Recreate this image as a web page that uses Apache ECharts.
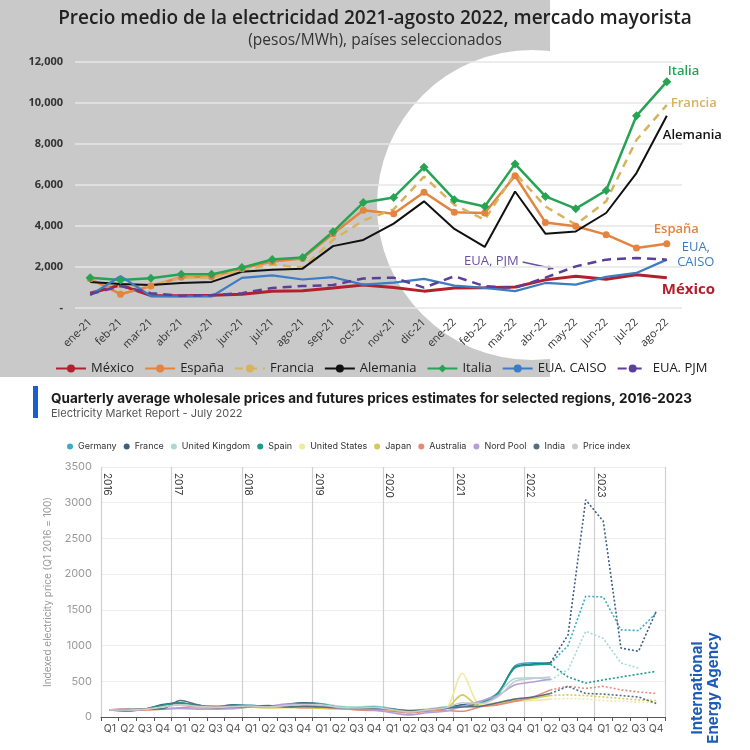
<!DOCTYPE html>
<html><head><meta charset="utf-8">
<script src="https://cdn.jsdelivr.net/npm/echarts@6/dist/echarts.min.js"></script>
<style>html,body{margin:0;padding:0;background:#fff}#c{width:750px;height:750px}</style>
</head><body><div id="c"></div>
<script>
// ---------- Top chart data (pesos/MWh) ----------
const months = ['ene-21','feb-21','mar-21','abr-21','may-21','jun-21','jul-21','ago-21','sep-21','oct-21','nov-21','dic-21','ene-22','feb-22','mar-22','abr-22','may-22','jun-22','jul-22','ago-22'];
const mexico   = [700,1100,580,580,600,650,800,820,950,1100,980,800,950,960,1000,1350,1530,1380,1600,1450];
const espana   = [1400,650,1050,1480,1500,1900,2250,2400,3600,4750,4580,5630,4650,4620,6440,4160,3970,3560,2910,3120];
const francia  = [1300,1000,1050,1450,1450,1850,2100,1950,3300,4250,4800,6400,5020,4290,6570,4940,4050,5190,8190,9900];
const alemania = [1250,1150,1100,1200,1250,1750,1850,1900,3000,3300,4100,5190,3840,2960,5670,3610,3720,4620,6570,9370];
const italia   = [1450,1350,1430,1620,1620,1950,2350,2450,3700,5130,5380,6860,5270,4940,7020,5430,4830,5720,9370,11040];
const caiso    = [600,1530,560,540,540,1450,1570,1370,1480,1120,1220,1400,1070,960,800,1200,1120,1500,1690,2340];
const pjm      = [650,1050,700,580,600,700,950,1050,1100,1420,1460,970,1530,1040,960,1460,2010,2340,2420,2340];
const topYTicks = [0,2000,4000,6000,8000,10000,12000];

// ---------- Bottom chart data (index, Q1 2016 = 100) ----------
const years = ['2016','2017','2018','2019','2020','2021','2022','2023'];
const quarters = ['Q1','Q2','Q3','Q4'];
const germanyHist   = [100,95,105,165,185,160,140,150,165,140,165,190,175,140,130,145,115,75,105,135,165,195,300,720,760,750];
const germanyFut    = [750,1000,1690,1680,1220,1210,1455];
const franceHist    = [100,90,110,175,200,150,145,170,155,135,175,200,185,130,120,140,105,65,100,130,170,210,330,700,740,760];
const franceFut     = [760,1150,3040,2740,965,920,1480];
const ukHist        = [100,100,115,150,170,160,150,155,160,150,165,185,185,150,140,150,120,85,110,140,150,200,330,540,550,520];
const ukFut         = [520,660,1200,1100,755,685,null];
const spainHist     = [100,85,110,165,200,160,145,165,160,150,170,190,180,135,125,140,110,70,100,130,150,190,330,690,730,740];
const spainFut      = [740,560,475,520,560,600,640];
const usHist        = [100,100,110,110,120,115,115,110,140,120,130,140,125,110,115,115,100,90,110,110,610,180,200,220,230,250];
const usFut         = [250,260,250,230,220,210,200];
const japanHist     = [100,95,105,110,125,130,120,120,140,130,135,130,120,115,110,110,100,80,95,105,310,150,180,230,260,300];
const japanFut      = [300,310,300,280,260,240,230];
const australiaHist = [100,110,100,110,130,150,140,140,150,140,145,130,140,120,100,90,80,60,80,90,80,140,170,220,280,380];
const australiaFut  = [380,430,400,430,380,350,330];
const nordHist      = [100,95,110,120,120,110,110,120,140,150,180,170,150,125,110,100,60,30,60,80,150,220,300,450,490,530];
const indiaHist     = [100,105,110,115,230,170,130,140,150,160,140,150,140,130,120,120,110,90,100,120,140,150,200,250,280,330];
const indiaFut      = [330,430,330,320,300,280,190];
const priceHist     = [100,98,108,140,170,150,135,145,155,140,160,175,170,135,125,135,105,70,100,125,200,190,280,500,540,560];

const qCats = [];
years.forEach(y => quarters.forEach(q => qCats.push(y + ' ' + q)));
const N = qCats.length;
function hist(a){ const r = a.slice(); while (r.length < N) r.push(null); return r; }
function fut(a){ const r = []; for (let i = 0; i < N - a.length; i++) r.push(null); return r.concat(a); }

const chart = echarts.init(document.getElementById('c'), null, {renderer:'canvas'});
const FONT = "'Open Sans', 'Noto Sans', sans-serif";
const FONT2 = "Inter, 'Noto Sans', sans-serif";

function topLine(name, data, color, opts) {
  return Object.assign({
    name, type:'line', data, xAxisIndex:0, yAxisIndex:0, symbol:'none',
    lineStyle:{color, width:2.5}, itemStyle:{color}, z:3
  }, opts || {});
}
function endLab(text, color, offset, extra) {
  return Object.assign({show:true, formatter:text, color, fontFamily:FONT, fontSize:13, fontWeight:600, offset}, extra||{});
}

const bottomSpecs = [
  ['Germany','#3aaec4',germanyHist,germanyFut],
  ['France','#3e5e86',franceHist,franceFut],
  ['United Kingdom','#a6dcd6',ukHist,ukFut],
  ['Spain','#1e9a8f',spainHist,spainFut],
  ['United States','#f0e9a0',usHist,usFut],
  ['Japan','#d6c95a',japanHist,japanFut],
  ['Australia','#e58a78',australiaHist,australiaFut],
  ['Nord Pool','#b69fd8',nordHist,null],
  ['India','#55707c',indiaHist,indiaFut],
  ['Price index','#c8cccc',priceHist,null]
];
const bottomSeries = [];
bottomSpecs.forEach(([name,color,h,f]) => {
  bottomSeries.push({name, type:'line', xAxisIndex:1, yAxisIndex:1, data:hist(h), symbol:'none', smooth:0.3,
    lineStyle:{color, width:1.6}, itemStyle:{color}});
  if (f) bottomSeries.push({name, type:'line', xAxisIndex:1, yAxisIndex:1, data:fut(f), symbol:'none',
    lineStyle:{color, width:1.6, type:[2,2]}, itemStyle:{color}});
});

const staticGraphic = [
  {id:'bg', type:'rect', z:-10, silent:true, shape:{x:0,y:0,width:550,height:377}, style:{fill:'#c9c9c9'}},
  {id:'circ', type:'circle', z:-9, silent:true, shape:{cx:532,cy:205,r:155}, style:{fill:'#ffffff'}},
  {id:'bar', type:'rect', shape:{x:33,y:386,width:5,height:32}, style:{fill:'#1a5fd0'}},
  {id:'iea', type:'text', x:705, y:688, rotation:Math.PI/2,
    style:{text:'International\nEnergy Agency', fill:'#1d5bb8', font:"bold 15px " + FONT2, align:'center', verticalAlign:'middle', lineHeight:16}}
];

chart.setOption({
  animation:false,
  textStyle:{fontFamily:FONT},
  title:[
    {text:'Precio medio de la electricidad 2021-agosto 2022, mercado mayorista', subtext:'(pesos/MWh), países seleccionados',
     left:'center', top:4, itemGap:5,
     textStyle:{fontFamily:FONT, fontSize:19, fontWeight:600, color:'#222'},
     subtextStyle:{fontFamily:FONT, fontSize:15.5, color:'#333'}},
    {text:'Quarterly average wholesale prices and futures prices estimates for selected regions, 2016-2023',
     subtext:'Electricity Market Report - July 2022', left:46, top:387, itemGap:2,
     textStyle:{fontFamily:FONT2, fontSize:13.5, fontWeight:700, color:'#1a1a1a'},
     subtextStyle:{fontFamily:FONT2, fontSize:11, color:'#555'}}
  ],
  legend:[
    {data:['México','España','Francia','Alemania','Italia','EUA. CAISO','EUA. PJM'],
     left:50, top:357, itemWidth:30, itemHeight:10, itemGap:10,
     textStyle:{fontFamily:FONT, fontSize:13, fontWeight:500, color:'#222'}},
    {data:bottomSpecs.map(s=>s[0]), left:62, top:437, icon:'circle', itemWidth:6, itemHeight:6, itemGap:7,
     textStyle:{fontFamily:FONT2, fontSize:9, color:'#333'}}
  ],
  grid:[
    {left:75, right:68, top:62, bottom:442.5},
    {left:101, right:85, top:467, bottom:33}
  ],
  xAxis:[
    {type:'category', gridIndex:0, data:months, boundaryGap:true,
     axisLine:{show:false}, axisTick:{show:false},
     axisLabel:{rotate:45, fontSize:11, color:'#333', margin:13, interval:0, fontFamily:FONT}},
    {type:'category', gridIndex:1, data:qCats, boundaryGap:true,
     axisLine:{lineStyle:{color:'#555', width:1.2}}, axisTick:{show:true, length:4, lineStyle:{color:'#555'}},
     axisLabel:{interval:0, fontSize:10.5, color:'#555', margin:6, fontFamily:FONT2, formatter:v=>v.split(' ')[1]},
     splitLine:{show:false}},
    {type:'value', gridIndex:1, position:'top', min:0, max:N, interval:4,
     axisLine:{show:false}, axisTick:{show:false}, axisLabel:{show:false},
     splitLine:{show:true, lineStyle:{color:'#cfcfcf', width:1.2}}}
  ],
  yAxis:[
    {type:'value', gridIndex:0, min:topYTicks[0], max:topYTicks[topYTicks.length-1], interval:2000,
     axisLine:{show:false}, axisTick:{show:false},
     axisLabel:{fontSize:11, fontWeight:700, color:'#333', margin:12, fontFamily:FONT,
       formatter:v => v === 0 ? '-' : v.toLocaleString('en-US')},
     splitLine:{lineStyle:{color:'#e6e6e6', width:1.5}}},
    {type:'value', gridIndex:1, min:0, max:3500, interval:500,
     name:'Indexed electricity price (Q1 2016 = 100)', nameLocation:'middle', nameGap:27,
     nameTextStyle:{fontSize:10, color:'#999', fontFamily:FONT2},
     axisLine:{show:false}, axisTick:{show:false},
     axisLabel:{fontSize:11, color:'#999', margin:9, fontFamily:FONT2, formatter:v => String(v)},
     splitLine:{lineStyle:{color:'#eeeeee'}}}
  ],
  series:[
    topLine('México', mexico, '#b3202c', {lineStyle:{color:'#b3202c', width:3},
      endLabel:endLab('México','#b3202c',[-13,12],{fontSize:15,fontWeight:700})}),
    topLine('España', espana, '#e3843f', {symbol:'circle', symbolSize:7,
      endLabel:endLab('España','#e3843f',[-21,-14])}),
    topLine('Francia', francia, '#d6b35c', {lineStyle:{color:'#d6b35c', width:2.5, type:[8,6]},
      endLabel:endLab('Francia','#d6b35c',[-4,-2])}),
    topLine('Alemania', alemania, '#111111', {lineStyle:{color:'#111', width:2},
      endLabel:endLab('Alemania','#111111',[-12,19])}),
    topLine('Italia', italia, '#27a354', {symbol:'diamond', symbolSize:9,
      endLabel:endLab('Italia','#27a354',[-7,-10])}),
    topLine('EUA. CAISO', caiso, '#3b7cc2', {lineStyle:{color:'#3b7cc2', width:2.2},
      endLabel:endLab('EUA,\nCAISO','#3b7cc2',[21,-5],{align:'center', lineHeight:15, fontWeight:500})}),
    topLine('EUA. PJM', pjm, '#5b3f98', {lineStyle:{color:'#5b3f98', width:2.5, type:[9,6]}})
  ].concat(bottomSeries),
  graphic: staticGraphic
});

// annotation for EUA, PJM (placed from data coordinates)
const pA = chart.convertToPixel({xAxisIndex:0, yAxisIndex:0}, [14, 2220]);
const pB = chart.convertToPixel({xAxisIndex:0, yAxisIndex:0}, [15, 1890]);
const x0 = pA[0] + (pB[0]-pA[0])*0.25, y0 = pA[1];
const x1 = pB[0] + 8, y1 = pB[1];
const ang = Math.atan2(y1-y0, x1-x0);
const ah = 6;
const extra = [
  {id:'pjmtxt', type:'text', x:x0-4, y:y0-1, style:{text:'EUA, PJM', fill:'#6a4fa3', font:"500 13px " + FONT, align:'right', verticalAlign:'middle'}},
  {id:'pjmline', type:'line', shape:{x1:x0, y1:y0, x2:x1, y2:y1}, style:{stroke:'#6a4fa3', lineWidth:1.5}},
  {id:'pjmhead', type:'polygon', shape:{points:[[x1,y1],[x1-ah*Math.cos(ang-0.45), y1-ah*Math.sin(ang-0.45)],[x1-ah*Math.cos(ang+0.45), y1-ah*Math.sin(ang+0.45)]]}, style:{fill:'#6a4fa3'}}
];
// year labels along the year dividers (positions from the year axis scale)
years.forEach((y, k) => {
  const px = chart.convertToPixel({xAxisIndex:2}, k*4);
  const top = chart.convertToPixel({yAxisIndex:1}, 3500);
  extra.push({id:'yr'+k, type:'text', x:px+1, y:top+6, rotation:-Math.PI/2,
    style:{text:y, fill:'#333', font:"10px " + FONT2, align:'left', verticalAlign:'bottom'}});
});
chart.setOption({graphic: staticGraphic.concat(extra)});
</script></body></html>
